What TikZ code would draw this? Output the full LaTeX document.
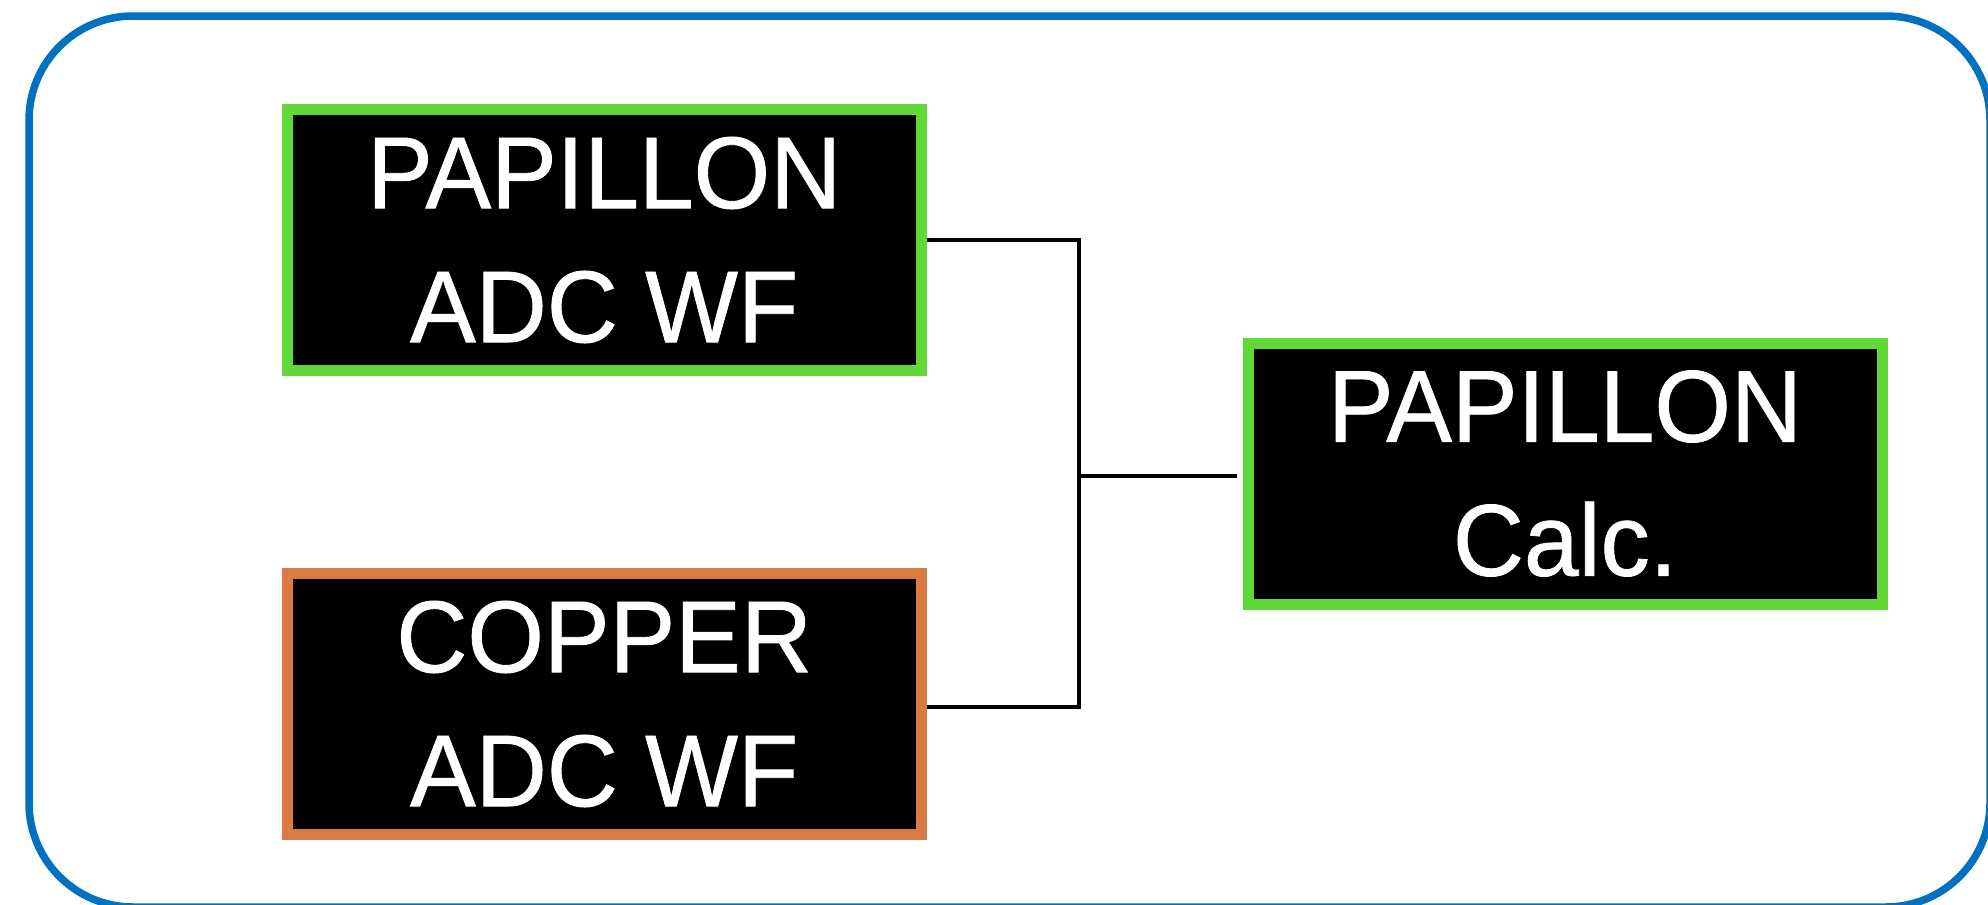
\documentclass[tikz,border=0pt]{standalone}
\usepackage{fontspec}
\setmainfont{Liberation Sans}[FakeStretch=0.965, FakeBold=0.8]
\definecolor{frameblue}{HTML}{0070C0}
\definecolor{boxgreen}{HTML}{62D836}
\definecolor{boxorange}{HTML}{D97B43}
\tikzset{
  blockbox/.style={fill=black, line width=11bp, minimum width=634bp, minimum height=261bp,
    inner sep=0pt, text=white, align=center, font=\fontsize{102bp}{134bp}\selectfont},
  greenbox/.style={blockbox, draw=boxgreen},
  orangebox/.style={blockbox, draw=boxorange},
  wire/.style={draw=black, line width=4bp},
  frame/.style={draw=frameblue, line width=7.5bp, rounded corners=104bp}
}
\begin{document}
\begin{tikzpicture}[x=1bp,y=-1bp]
\useasboundingbox (0,0) rectangle (1988,905);
\clip (0,0) rectangle (1988,905);
\fill[white] (0,0) rectangle (1988,905);
\draw[frame] (29,16) rectangle (1990,907);
\node[greenbox] (pwf) at (604.2,240) {PAPILLON\\ADC WF};
\node[orangebox] (cwf) at (604.2,704) {COPPER\\ADC WF};
\node[greenbox] (calc) at (1565,473.5) {PAPILLON\\Calc.};
\coordinate (j) at (1079,476);
\draw[wire] (pwf.east) -| (j);
\draw[wire] ([yshift=-3bp]cwf.east) -| (j);
\draw[wire, shorten >=6bp] (j) -- (calc.west |- j);
\end{tikzpicture}
\end{document}
